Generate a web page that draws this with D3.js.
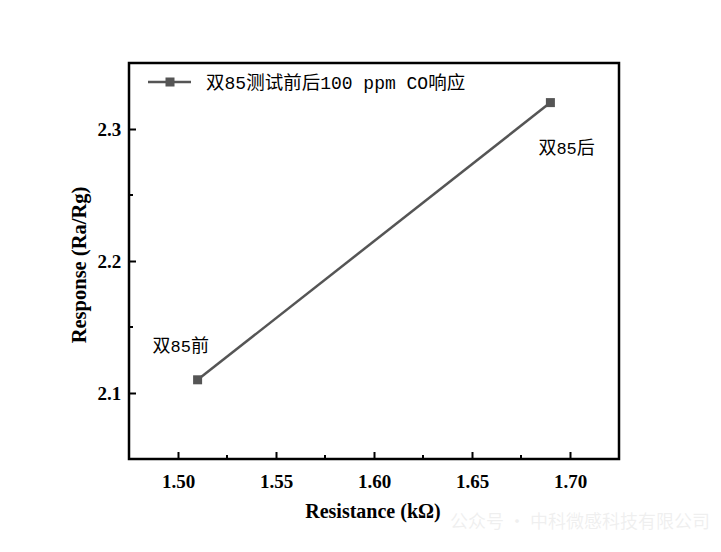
<!DOCTYPE html>
<html><head><meta charset="utf-8">
<script src="https://cdn.jsdelivr.net/npm/d3@7"></script>
<style>body{margin:0;background:#fff;}svg{display:block;}</style>
</head><body>
<svg id="c" width="721" height="552"></svg>
<script>
const xValues = [1.51, 1.69];
const yValues = [2.11, 2.32];
const pointLabels = ["双85前", "双85后"];
const xTicks = [1.50, 1.55, 1.60, 1.65, 1.70];
const yTicks = [2.1, 2.2, 2.3];
const seriesName = "双85测试前后100 ppm CO响应";

const svg = d3.select("#c");
const L = 129, R = 619, T = 63, B = 459;
const x = d3.scaleLinear().domain([1.475, 1.725]).range([L, R]);
const y = d3.scaleLinear().domain([2.05, 2.35]).range([B, T]);
const col = "#555555";
const serif = "'Liberation Serif','Times New Roman',serif";
const cjk = "'Noto Sans CJK SC','Noto Sans',sans-serif";
const mono = "'Liberation Mono','DejaVu Sans Mono',monospace";

// split mixed text into CJK / latin runs, latin in a monospace face (SimSun-like half width)
function mixed(sel, str, cjkSize, latSize) {
  const runs = str.match(/[\u3000-\u9fff\uff00-\uffef]+|[^\u3000-\u9fff\uff00-\uffef]+/g);
  sel.selectAll("tspan").data(runs).join("tspan")
    .attr("font-family", d => /[\u3000-\u9fff]/.test(d) ? cjk : mono)
    .attr("font-size", d => /[\u3000-\u9fff]/.test(d) ? cjkSize : latSize)
    .attr("xml:space", "preserve")
    .text(d => d);
}

// watermark
svg.append("text").attr("x", 450).attr("y", 528).attr("font-family", cjk).attr("font-size", 18)
  .attr("fill", "#000").attr("opacity", 0.06).text("公众号 · 中科微感科技有限公司");

// axes
const xAxis = d3.axisBottom(x).tickValues(xTicks).tickSize(-7).tickFormat(d3.format(".2f"));
const gx = svg.append("g").attr("transform", `translate(0,${B})`).call(xAxis);
const yAxis = d3.axisLeft(y).tickValues(yTicks).tickSize(-7).tickFormat(d3.format(".1f"));
const gy = svg.append("g").attr("transform", `translate(${L},0)`).call(yAxis);
[gx, gy].forEach(g => {
  g.select(".domain").remove();
  g.selectAll(".tick line").attr("stroke", "#000").attr("stroke-width", 2);
  g.selectAll(".tick text").attr("font-family", serif).attr("font-weight", "bold")
    .attr("font-size", 19).attr("fill", "#000");
});
gx.selectAll(".tick text").attr("dy", "1.35em");
gy.selectAll(".tick text").attr("dx", "-0.25em").attr("dy", "0.35em");

// minor ticks
const xMinor = xTicks.slice(0, -1).map((d, i) => (d + xTicks[i + 1]) / 2);
const yMinor = yTicks.slice(0, -1).map((d, i) => (d + yTicks[i + 1]) / 2);
svg.append("g").selectAll("line").data(xMinor).join("line")
  .attr("x1", d => x(d)).attr("x2", d => x(d)).attr("y1", B).attr("y2", B - 4)
  .attr("stroke", "#000").attr("stroke-width", 2);
svg.append("g").selectAll("line").data(yMinor).join("line")
  .attr("y1", d => y(d)).attr("y2", d => y(d)).attr("x1", L).attr("x2", L + 4)
  .attr("stroke", "#000").attr("stroke-width", 2);

// frame
svg.append("rect").attr("x", L).attr("y", T).attr("width", R - L).attr("height", B - T)
  .attr("fill", "none").attr("stroke", "#000").attr("stroke-width", 2.5);

// data
const pts = xValues.map((v, i) => [v, yValues[i]]);
svg.append("path").datum(pts)
  .attr("d", d3.line().x(d => x(d[0])).y(d => y(d[1])))
  .attr("fill", "none").attr("stroke", col).attr("stroke-width", 2.5);
svg.append("g").selectAll("rect").data(pts).join("rect")
  .attr("x", d => x(d[0]) - 4.5).attr("y", d => y(d[1]) - 4.5)
  .attr("width", 9).attr("height", 9).attr("fill", col);

// point labels
const lblOff = [[-45, -28], [-12, 51]];
svg.append("g").selectAll("text").data(pts).join("text")
  .attr("x", (d, i) => x(d[0]) + lblOff[i][0]).attr("y", (d, i) => y(d[1]) + lblOff[i][1])
  .attr("fill", "#000")
  .each(function(d, i) { mixed(d3.select(this), pointLabels[i], 18, 17); });

// legend
svg.append("line").attr("x1", 148).attr("x2", 191).attr("y1", 82).attr("y2", 82)
  .attr("stroke", col).attr("stroke-width", 2.5);
svg.append("rect").attr("x", 165.5).attr("y", 77.5).attr("width", 9).attr("height", 9).attr("fill", col);
svg.append("text").attr("x", 206).attr("y", 89).attr("fill", "#000")
  .call(s => mixed(s, seriesName, 18.5, 18));

// axis titles
svg.append("text").attr("x", 373).attr("y", 518).attr("text-anchor", "middle")
  .attr("font-family", serif).attr("font-weight", "bold").attr("font-size", 20).attr("fill", "#000")
  .text("Resistance (kΩ)");
svg.append("text").attr("transform", `translate(86,${(T + B) / 2 + 4}) rotate(-90)`).attr("text-anchor", "middle")
  .attr("font-family", serif).attr("font-weight", "bold").attr("font-size", 20.5).attr("fill", "#000")
  .text("Response (Ra/Rg)");
</script>
</body></html>
